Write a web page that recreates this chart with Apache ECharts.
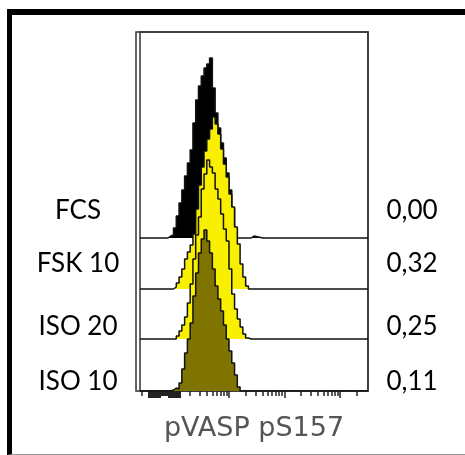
<!DOCTYPE html>
<html>
<head>
<meta charset="utf-8">
<script src="https://cdn.jsdelivr.net/npm/echarts@6/dist/echarts.min.js"></script>
<style>
  html, body { margin: 0; padding: 0; background: #fff; overflow: hidden; }
  #frame { position: absolute; left: 7px; top: 9px; width: 470px; height: 439px;
           border-top: 6px solid #000; border-left: 5px solid #000; border-bottom: 1px solid #999; }
  #main { position: absolute; left: 0; top: 0; width: 465px; height: 455px; }
</style>
</head>
<body>
<div id="frame"></div>
<div id="main"></div>
<script>
// samples, top to bottom
const samples = ['FCS', 'FSK 10', 'ISO 20', 'ISO 10'];
const ratios = ['0,00', '0,32', '0,25', '0,11'];

// histogram bin left edges, log10 of pVASP pS157 intensity
const bins = [1.90, 1.95, 2.00, 2.05, 2.10, 2.15, 2.20, 2.25, 2.30, 2.35, 2.40,
  2.45, 2.50, 2.55, 2.60, 2.65, 2.70, 2.75, 2.80, 2.85, 2.90, 2.95, 3.00,
  3.05, 3.10, 3.15, 3.20, 3.25, 3.30, 3.35, 3.40];

// counts per bin (scaled)
const fcs = [2, 3, 10, 22, 35, 48, 62, 75, 88, 115, 138, 152, 162, 170, 174, 180, 150, 125, 110, 95, 80, 65, 48, 30, 10, 0, 0, 0, 0, 0, 0];
const fsk10 = [0, 0, 2, 6, 12, 20, 30, 37, 44, 55, 80, 104, 122, 138, 150, 160, 172, 165, 155, 140, 125, 112, 95, 82, 62, 45, 25, 12, 3, 0, 0];
const iso20 = [0, 0, 0, 3, 8, 14, 22, 36, 55, 80, 104, 122, 150, 165, 179, 172, 166, 150, 140, 125, 110, 98, 70, 45, 30, 20, 12, 5, 1, 0, 0];
const iso10 = [0, 1, 3, 2, 8, 22, 38, 52, 68, 95, 118, 138, 152, 161, 150, 138, 122, 105, 92, 80, 66, 52, 40, 28, 16, 4, 0, 0, 0, 0, 0];

// isolated single events far right of the peaks [x, count]
const fcsDots = [[3.43, 2], [3.61, 2], [4.33, 2]];
const fsk10Dots = [[3.59, 2], [4.82, 2]];
const iso20Dots = [];
const iso10Dots = [[3.95, 2]];

// vertical offset of each histogram baseline
const offsets = [153, 102, 52, 0];

// axis ticks (log10 units)
const majorTicks = [3, 4, 5];
const minorTicks = [1.43, 2.301, 2.477, 2.602, 2.699, 2.778, 2.845, 2.903, 2.954,
  3.301, 3.477, 3.602, 3.699, 3.778, 3.845, 3.903, 3.954,
  4.301, 4.477, 4.602, 4.699, 4.778, 4.845, 4.903, 4.954, 5.301];
const blockTicks = [1.568, 1.613, 1.658, 1.703, 1.748, 1.928, 1.973, 2.018, 2.063, 2.108];
const notchTicks = [1.793, 1.838, 1.883];

const xMin = 1.396, xMax = 5.505;
const labelPos = [180, 127, 64, 9];

const fills = ['#000000', '#f8f000', '#f8f000', '#807400'];
const counts = [fcs, fsk10, iso20, iso10];
const dots = [fcsDots, fsk10Dots, iso20Dots, iso10Dots];

function buildData(h, d, off) {
  let pts = [[xMin, off]];
  bins.forEach(function (u, i) { pts.push([u, off + h[i]]); });
  d.forEach(function (p) {
    pts.push([p[0], off + p[1]]);
    pts.push([p[0] + 0.02, off]);
  });
  pts.push([xMax, off]);
  pts.sort(function (a, b) { return a[0] - b[0]; });
  return pts;
}

const series = samples.map(function (name, k) {
  return {
    name: name,
    type: 'line',
    xAxisIndex: 1,
    yAxisIndex: 1,
    step: 'end',
    symbol: 'none',
    data: buildData(counts[k], dots[k], offsets[k]),
    lineStyle: {color: '#111', width: 1.5},
    areaStyle: {color: fills[k], opacity: 1, origin: offsets[k]},
    z: 2 + k
  };
});

function tickAxis(values, len, width) {
  return {
    type: 'value', gridIndex: 1, position: 'bottom', min: xMin, max: xMax,
    axisLine: {show: false},
    axisLabel: {show: false},
    splitLine: {show: false},
    axisTick: {show: true, customValues: values, length: len, lineStyle: {color: '#222', width: width}}
  };
}

const hidden = {show: false};
const chart = echarts.init(document.getElementById('main'));
const xMajor = tickAxis(majorTicks, 7, 1.5);
xMajor.name = 'pVASP pS157';
xMajor.nameLocation = 'middle';
xMajor.nameGap = 24;
xMajor.nameTextStyle = {fontFamily: 'DejaVu Sans', fontSize: 27, color: '#555'};

chart.setOption({
  animation: false,
  grid: [
    {left: 136, top: 32, width: 232, height: 359, show: true,
      borderColor: '#333', borderWidth: 1.5, backgroundColor: 'transparent'},
    {left: 140, top: 32, width: 228, height: 359, show: true,
      borderColor: '#333', borderWidth: 1.5, backgroundColor: 'transparent'}
  ],
  xAxis: [
    {type: 'value', gridIndex: 0, show: false, min: 0, max: 1},
    xMajor,
    tickAxis(minorTicks, 5, 1.5),
    tickAxis(blockTicks, 7, 3),
    tickAxis(notchTicks, 5, 3)
  ],
  yAxis: [
    {type: 'value', gridIndex: 0, show: false, min: 0, max: 1},
    {
      type: 'value', gridIndex: 1, min: 0, max: 359, position: 'left',
      axisLine: hidden, axisTick: hidden, splitLine: hidden,
      axisLabel: {
        customValues: labelPos, margin: 62, align: 'center',
        fontFamily: 'Lato', fontSize: 26, color: '#000',
        formatter: function (v) { return samples[labelPos.indexOf(v)]; }
      }
    },
    {
      type: 'value', gridIndex: 1, min: 0, max: 359, position: 'right',
      axisLine: hidden, axisTick: hidden, splitLine: hidden,
      axisLabel: {
        customValues: labelPos, margin: 44, align: 'center',
        fontFamily: 'Lato', fontSize: 26, color: '#000',
        formatter: function (v) { return ratios[labelPos.indexOf(v)]; }
      }
    }
  ],
  series: series
});
</script>
</body>
</html>
